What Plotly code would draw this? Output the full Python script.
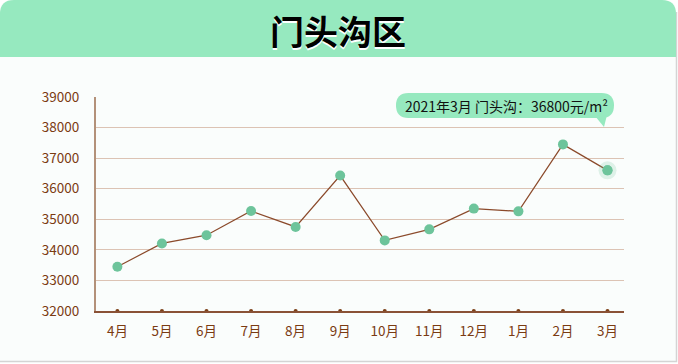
import plotly.graph_objects as go

months = ["4月", "5月", "6月", "7月", "8月", "9月", "10月", "11月", "12月", "1月", "2月", "3月"]
prices = [33450, 34210, 34480, 35270, 34750, 36430, 34310, 34670, 35350, 35260, 37450, 36600]
y_ticks = [32000, 33000, 34000, 35000, 36000, 37000, 38000, 39000]
title_text = "门头沟区"
tooltip_text = "2021年3月 门头沟：36800元/m²"
highlight_index = 11

W, H = 678, 364
L, R, T, B = 96, 54, 97, 53
PW, PH = W - L - R, H - T - B


def px(x):
    return (x - L) / PW


def py(y):
    return (H - B - y) / PH


FONT = "Noto Sans CJK SC, Noto Sans, sans-serif"
BROWN = "#7A3B12"
GREEN = "#6DC49B"
BAND = "#96E9BF"

fig = go.Figure()

# line + markers
fig.add_trace(go.Scatter(
    x=months, y=prices, mode="lines+markers",
    line=dict(color="#8B4A2B", width=1.2),
    marker=dict(color=GREEN, size=10),
    hoverinfo="skip", cliponaxis=False,
))
# halo on highlighted point
fig.add_trace(go.Scatter(
    x=[months[highlight_index]], y=[prices[highlight_index]], mode="markers",
    marker=dict(color="rgba(109,196,155,0.2)", size=18),
    hoverinfo="skip", cliponaxis=False,
))
fig.add_trace(go.Scatter(
    x=[months[highlight_index]], y=[prices[highlight_index]], mode="markers",
    marker=dict(color=GREEN, size=10),
    hoverinfo="skip", cliponaxis=False,
))
# tick dots on x-axis
fig.add_trace(go.Scatter(
    x=months, y=[y_ticks[0]] * len(months), mode="markers",
    marker=dict(color="#7B3F16", size=4),
    hoverinfo="skip", cliponaxis=False,
))


def P(x, y):
    return f"{px(x):.5f},{py(y):.5f}"


def rr_path(x0, y0, x1, y1, r, tl=True, tr=True, bl=True, br=True):
    s = ""
    if tl:
        s += f"M{P(x0, y0 + r)} Q{P(x0, y0)} {P(x0 + r, y0)} "
    else:
        s += f"M{P(x0, y0)} "
    if tr:
        s += f"L{P(x1 - r, y0)} Q{P(x1, y0)} {P(x1, y0 + r)} "
    else:
        s += f"L{P(x1, y0)} "
    if br:
        s += f"L{P(x1, y1 - r)} Q{P(x1, y1)} {P(x1 - r, y1)} "
    else:
        s += f"L{P(x1, y1)} "
    if bl:
        s += f"L{P(x0 + r, y1)} Q{P(x0, y1)} {P(x0, y1 - r)} "
    else:
        s += f"L{P(x0, y1)} "
    return s + "Z"


shapes = []
# card background
shapes.append(dict(type="path", xref="paper", yref="paper", layer="below",
                   path=rr_path(0, 0, 676, 361, 12, bl=False, br=False),
                   fillcolor="#FAFDFC", line=dict(width=0)))
# card border right & bottom
shapes.append(dict(type="path", xref="paper", yref="paper", layer="below",
                   path=f"M{P(676.5, 12)} L{P(676.5, 361.5)} L{P(0, 361.5)}",
                   line=dict(color="#D4D4D4", width=1.5)))
# header band
shapes.append(dict(type="path", xref="paper", yref="paper", layer="below",
                   path=rr_path(0, 0, 676, 57, 14, bl=False, br=False),
                   fillcolor=BAND, line=dict(width=0)))
# tooltip bubble
shapes.append(dict(type="path", xref="paper", yref="paper",
                   path=rr_path(396, 93, 614, 118, 12.5), fillcolor=BAND, line=dict(width=0)))
shapes.append(dict(type="path", xref="paper", yref="paper",
                   path=f"M{P(595, 116)} L{P(604, 127)} L{P(607, 115)} Z",
                   fillcolor=BAND, line=dict(width=0)))

annotations = [
    dict(xref="paper", yref="paper", x=px(338), y=py(30), text=f"<b>{title_text}</b>",
         showarrow=False, xanchor="center", yanchor="middle",
         font=dict(family=FONT, size=34, color="#000000", shadow="0px 1.5px 0px #ffffff")),
    dict(xref="paper", yref="paper", x=px(506), y=py(105.5), text=tooltip_text,
         showarrow=False, xanchor="center", yanchor="middle",
         font=dict(family=FONT, size=14, color="#111111")),
]

fig.update_layout(
    width=W, height=H,
    margin=dict(l=L, r=R, t=T, b=B),
    paper_bgcolor="#FFFFFF", plot_bgcolor="rgba(0,0,0,0)",
    showlegend=False,
    shapes=shapes, annotations=annotations,
    font=dict(family=FONT, color=BROWN, size=13.5),
    xaxis=dict(
        type="category", categoryorder="array", categoryarray=months,
        range=[-0.48, 11.37], showgrid=False, zeroline=False,
        showline=True, linecolor="#8A5236", linewidth=1.5,
        ticks="outside", ticklen=7, tickcolor="rgba(0,0,0,0)",
        tickfont=dict(family=FONT, size=13.5, color=BROWN), fixedrange=True,
    ),
    yaxis=dict(
        range=[32000, 39000], tickvals=y_ticks, ticktext=[str(v) for v in y_ticks],
        showgrid=True, gridcolor="#DCC3B4", gridwidth=1, zeroline=False,
        showline=True, linecolor="#B39179", linewidth=2,
        ticks="outside", ticklen=12, tickcolor="rgba(0,0,0,0)",
        tickfont=dict(family=FONT, size=13.5, color=BROWN), fixedrange=True,
    ),
)

fig.write_html("out.html", config={"displayModeBar": False},
               post_script="document.body.style.margin='0';document.body.style.overflow='hidden';")
